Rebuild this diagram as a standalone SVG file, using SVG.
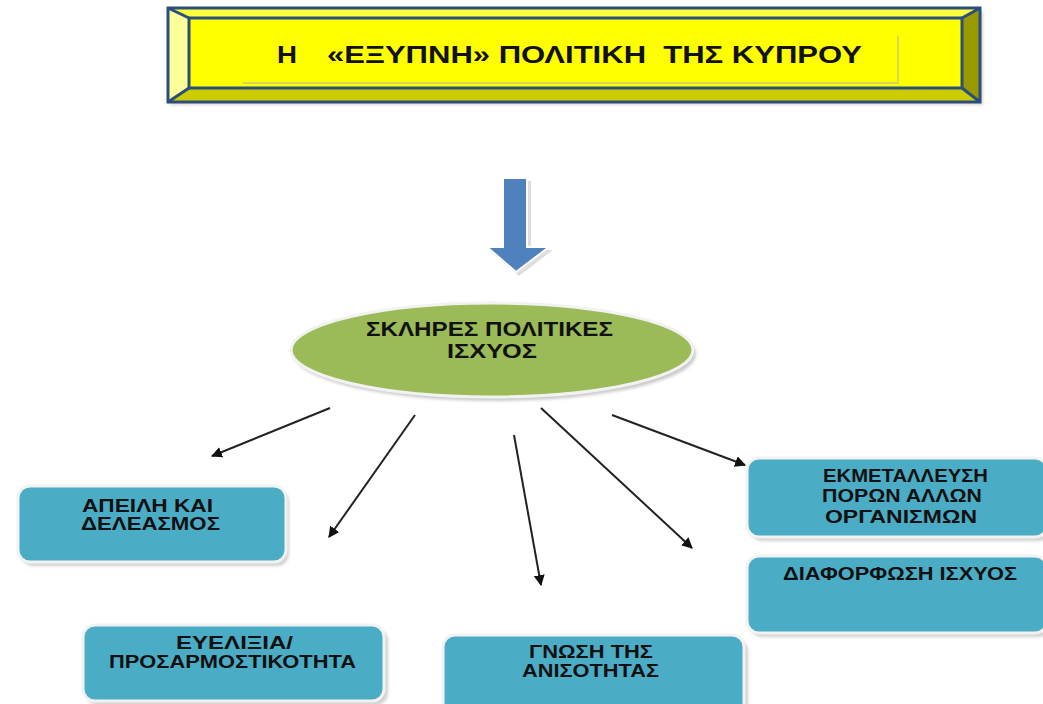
<svg xmlns="http://www.w3.org/2000/svg" width="1043" height="704" viewBox="0 0 1043 704">
<defs>
<style>
.t{font-family:"Liberation Sans",Arial,sans-serif;font-weight:bold;fill:#111;}
.box{fill:#4BACC6;stroke:#F2F2F2;stroke-width:3;}
.shadow{fill:#9a9a9a;opacity:0.45;}
.conn{stroke:#222;stroke-width:2;fill:none;marker-end:url(#ah);}
</style>
<marker id="ah" viewBox="0 0 10 10" refX="9" refY="5" markerWidth="5.5" markerHeight="5.5" orient="auto" markerUnits="strokeWidth">
<path d="M0,0 L10,5 L0,10 z" fill="#111"/>
</marker>
<filter id="blur" x="-10%" y="-10%" width="120%" height="130%"><feGaussianBlur stdDeviation="1.5"/></filter>
</defs>
<rect width="1043" height="704" fill="#FFFFFF"/>

<g id="title">
<rect x="170" y="11" width="813" height="94" fill="#C9A0A0" opacity="0.5" filter="url(#blur)"/>
<rect x="168" y="8" width="812" height="94" fill="#FFFF00"/>
<polygon points="168,8 980,8 962,18 189,18" fill="#FFFF40"/>
<polygon points="168,8 189,18 189,88 168,102" fill="#FFFF99"/>
<polygon points="168,102 189,88 962,88 980,102" fill="#CCCC00"/>
<polygon points="980,8 980,102 962,88 962,18" fill="#999900"/>
<g stroke="#2A4E7E" stroke-width="3" fill="none">
<rect x="168" y="8" width="812" height="94"/>
<rect x="189" y="18" width="773" height="70"/>
<line x1="168" y1="8" x2="189" y2="18"/>
<line x1="980" y1="8" x2="962" y2="18"/>
<line x1="168" y1="102" x2="189" y2="88"/>
<line x1="980" y1="102" x2="962" y2="88"/>
</g>
<polyline points="243,83 898,83 898,36" fill="none" stroke="#D6D65A" stroke-width="2"/>
<text class="t" x="277" y="63" font-size="23" textLength="20" lengthAdjust="spacingAndGlyphs">Η</text>
<text class="t" x="327" y="63" font-size="23" textLength="535" lengthAdjust="spacingAndGlyphs" xml:space="preserve">«ΕΞΥΠΝΗ» ΠΟΛΙΤΙΚΗ  ΤΗΣ ΚΥΠΡΟΥ</text>
</g>

<g id="down-arrow">
<polygon points="507,181 531,181 531,250 553,250 519,276 489,250 507,250" fill="#D0D0D0" opacity="0.7"/>
<polygon points="503,178 527,178 527,247 549,247 516,272 487,247 503,247" fill="#4F81BD" stroke="#FFFFFF" stroke-width="2"/>
</g>

<g id="hard-power">
<ellipse cx="495" cy="354" rx="201" ry="47" fill="#8a8a8a" opacity="0.45" filter="url(#blur)"/>
<ellipse cx="492" cy="350" rx="201" ry="47" fill="#9BBB59" stroke="#F2F2F2" stroke-width="3"/>
<text class="t" x="366" y="336" font-size="20" textLength="247" lengthAdjust="spacingAndGlyphs">ΣΚΛΗΡΕΣ ΠΟΛΙΤΙΚΕΣ</text>
<text class="t" x="447" y="358" font-size="20" textLength="90" lengthAdjust="spacingAndGlyphs">ΙΣΧΥΟΣ</text>
</g>

<g id="connectors">
<line class="conn" x1="330" y1="408" x2="212" y2="456"/>
<line class="conn" x1="415" y1="415" x2="329" y2="537"/>
<line class="conn" x1="514" y1="435" x2="541" y2="585"/>
<line class="conn" x1="541" y1="408" x2="692" y2="548"/>
<line class="conn" x1="612" y1="415" x2="745" y2="465"/>
</g>

<g id="threat">
<rect class="shadow" x="21" y="490" width="268" height="76" rx="12" filter="url(#blur)"/>
<rect class="box" x="18" y="486" width="268" height="76" rx="12"/>
<text class="t" x="82" y="512" font-size="18" textLength="131" lengthAdjust="spacingAndGlyphs">ΑΠΕΙΛΗ ΚΑΙ</text>
<text class="t" x="81" y="530" font-size="18" textLength="139" lengthAdjust="spacingAndGlyphs">ΔΕΛΕΑΣΜΟΣ</text>
</g>

<g id="flexibility">
<rect class="shadow" x="86" y="629" width="302" height="76" rx="12" filter="url(#blur)"/>
<rect class="box" x="83" y="625" width="301" height="76" rx="12"/>
<text class="t" x="176" y="649" font-size="18" textLength="117" lengthAdjust="spacingAndGlyphs">ΕΥΕΛΙΞΙΑ/</text>
<text class="t" x="109" y="668" font-size="18" textLength="247" lengthAdjust="spacingAndGlyphs">ΠΡΟΣΑΡΜΟΣΤΙΚΟΤΗΤΑ</text>
</g>

<g id="inequality">
<rect class="shadow" x="446" y="639" width="302" height="80" rx="12" filter="url(#blur)"/>
<rect class="box" x="443" y="635" width="301" height="80" rx="12"/>
<text class="t" x="529" y="658" font-size="18" textLength="124" lengthAdjust="spacingAndGlyphs">ΓΝΩΣΗ ΤΗΣ</text>
<text class="t" x="522" y="677" font-size="18" textLength="137" lengthAdjust="spacingAndGlyphs">ΑΝΙΣΟΤΗΤΑΣ</text>
</g>

<g id="exploitation">
<rect class="shadow" x="750" y="462" width="300" height="79" rx="12" filter="url(#blur)"/>
<rect class="box" x="747" y="458" width="300" height="79" rx="12"/>
<text class="t" x="823" y="482" font-size="18" textLength="165" lengthAdjust="spacingAndGlyphs">ΕΚΜΕΤΑΛΛΕΥΣΗ</text>
<text class="t" x="822" y="502" font-size="18" textLength="160" lengthAdjust="spacingAndGlyphs">ΠΟΡΩΝ ΑΛΛΩΝ</text>
<text class="t" x="825" y="523" font-size="18" textLength="152" lengthAdjust="spacingAndGlyphs">ΟΡΓΑΝΙΣΜΩΝ</text>
</g>

<g id="power-shaping">
<rect class="shadow" x="750" y="560" width="300" height="77" rx="12" filter="url(#blur)"/>
<rect class="box" x="747" y="556" width="300" height="77" rx="12"/>
<text class="t" x="783" y="580" font-size="18" textLength="234" lengthAdjust="spacingAndGlyphs">ΔΙΑΦΟΡΦΩΣΗ ΙΣΧΥΟΣ</text>
</g>
</svg>
